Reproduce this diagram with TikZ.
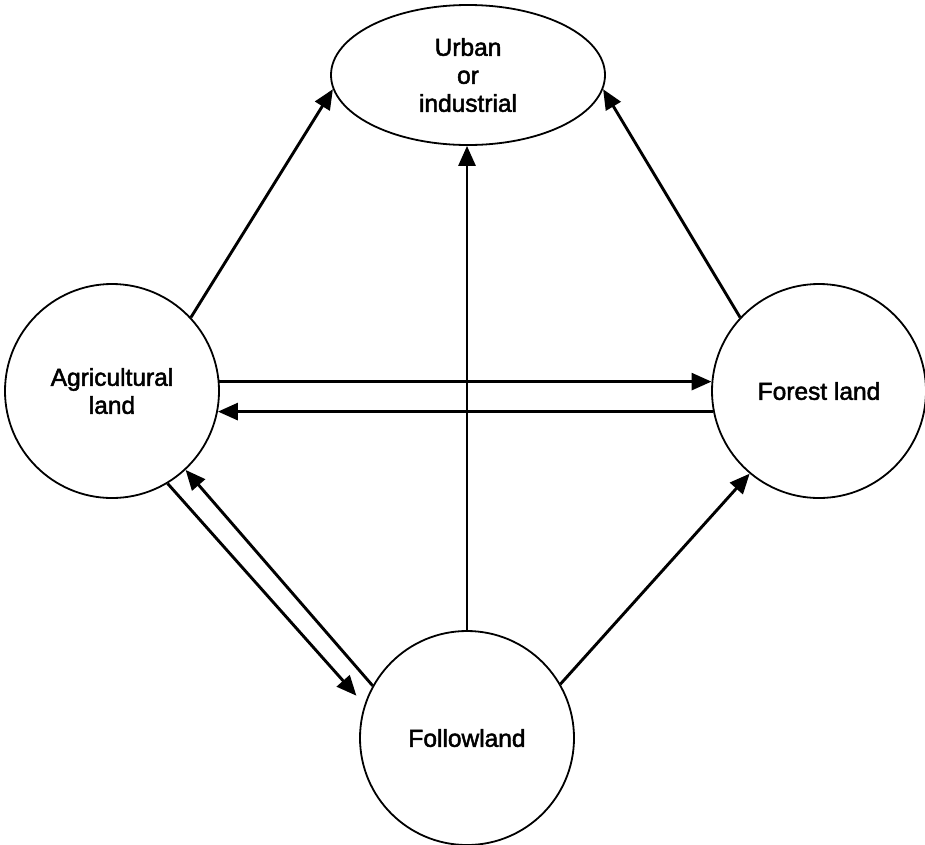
\documentclass[tikz,border=0pt]{standalone}
\usepackage{fontspec}
\setmainfont{Liberation Sans}
\newfontfamily\lblfont[FakeBold=2]{Liberation Sans}
\usetikzlibrary{arrows.meta,shapes.geometric}
\begin{document}
\begin{tikzpicture}[x=1pt,y=-1pt,
  lbl/.style={align=center,font=\lblfont\fontsize{24.5}{28}\selectfont},
  state/.style={circle,draw,line width=1.8pt,minimum size=214pt,inner sep=0pt,lbl},
  urbanbox/.style={ellipse,draw,line width=1.8pt,minimum width=274pt,minimum height=140pt,inner sep=0pt,lbl},
  arr/.style={line width=2.9pt,-{Triangle[length=20pt,width=17pt]}}]
\useasboundingbox (0,0) rectangle (925,844);
\node[urbanbox] (urban) at (468,75) {Urban\\or\\industrial};
\node[state] (agri) at (112,391) {Agricultural\\land};
\node[state] (forest) at (819,391) {Forest land};
\node[state] (foll) at (467,738) {Followland};
% to urban
\draw[arr] (agri.43) -- (urban.186);
\draw[arr] (forest.137) -- (urban.354);
\draw[arr] (foll.north) -- (foll.north |- urban.south);
% agri <-> forest
\draw[arr] (agri.5) -- (agri.5 -| forest.175);
\draw[arr] (forest.191) -- (forest.191 -| agri.-11);
% agri <-> followland
\draw[arr,shorten >=12pt] (agri.-59) -- (foll.162);
\draw[arr] (foll.151) -- (agri.-47);
% followland -> forest
\draw[arr] (foll.30) -- (forest.230);
\end{tikzpicture}
\end{document}
